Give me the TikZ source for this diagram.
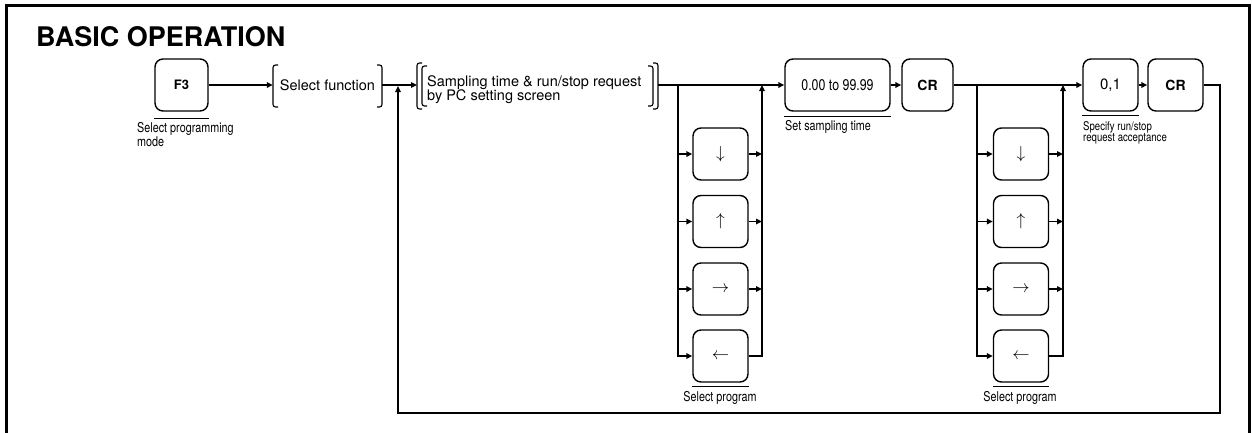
\documentclass[tikz,border=0pt]{standalone}
\usepackage{fontspec}
\setmainfont{TeX Gyre Heros}
\newfontfamily\condfont[FakeStretch=0.8]{TeX Gyre Heros}
\usetikzlibrary{arrows.meta}
\newcommand\mylab{\fontsize{14.5}{14}\selectfont}
\newcommand\mysml{\condfont\fontsize{13.5}{12}\selectfont}
\newcommand\mytny{\condfont\fontsize{12}{11}\selectfont}
\begin{document}
\begin{tikzpicture}[x=1pt,y=-1pt,
  key/.style={draw, line width=1.4pt, rounded corners=8pt, minimum width=55pt,
    minimum height=52pt, inner sep=0pt},
  conn/.style={line width=1.8pt},
  arr/.style={conn, -{Triangle[length=6pt,width=5.5pt]}},
  loopl/.style={line width=1.5pt, -{Triangle[length=6pt,width=5.5pt]}},
  brk/.style={line width=1.1pt, rounded corners=2.5pt},
  ovl/.style={line width=0.9pt},
  txt/.style={inner sep=0pt}
]
\useasboundingbox (0,0) rectangle (1252,432);
\clip (0,0) rectangle (1252,432);
% frame
\draw[line width=3pt] (6.5,445) -- (6.5,5) -- (1249.5,5) -- (1249.5,445);
% title
\node[txt, anchor=base west, font=\bfseries\fontsize{27}{27}\selectfont] (title) at (36,46) {BASIC OPERATION};

% top row
\node[key, minimum width=53pt, font=\bfseries\fontsize{13}{13}\selectfont] (f3) at (181.5,85) {F3};
\node[txt, minimum width=109pt, minimum height=42pt, font=\mylab] (selfun) at (327.5,85) {Select function};
\draw[brk] (278,65) -- (273,65) -- (273,107) -- (278,107);
\draw[brk] (377,65) -- (382,65) -- (382,107) -- (377,107);
\coordinate (sampin) at (417,85);
\coordinate (sampout) at (658,85);
\node[txt, anchor=north west, align=left, font=\mylab] (samp) at (427,75)
  {Sampling time \& run/stop request\\by PC setting screen};
\draw[brk] (422,63) -- (417,63) -- (417,109) -- (422,109);
\draw[brk] (427,66) -- (422,66) -- (422,106) -- (427,106);
\draw[brk] (648,66) -- (653,66) -- (653,106) -- (648,106);
\draw[brk] (653,63) -- (658,63) -- (658,109) -- (653,109);

\node[key, minimum width=105pt, font=\condfont\fontsize{15.5}{15}\selectfont] (t1) at (837.5,85) {0.00 to 99.99};
\node[key, minimum width=51pt, font=\bfseries\fontsize{14}{14}\selectfont] (cr1) at (927.5,85) {CR};
\node[key, font=\fontsize{15}{15}\selectfont] (o1) at (1110.5,85) {0,1};
\node[key, font=\bfseries\fontsize{14}{14}\selectfont] (cr2) at (1175.5,85) {CR};

% labels under top row
\draw[ovl] ([yshift=-7pt]f3.south west) -- ([yshift=-7pt]f3.south east);
\node[txt, anchor=north west, align=left, font=\mysml] (l1) at (137,122) {Select programming\\mode};
\draw[ovl] ([yshift=-5pt]t1.south west) -- ([yshift=-5pt]t1.south east);
\node[txt, anchor=north west, font=\mysml] (l2) at (785,120) {Set sampling time};
\draw[ovl] ([yshift=-4pt]o1.south west) -- ([yshift=-4pt]o1.south east);
\node[txt, anchor=north west, align=left, font=\mytny] (l3) at (1083,121) {Specify run/stop\\request acceptance};

% main connectors
\draw[arr] (f3.east) -- (selfun.west);
\draw[arr] (selfun.east) -- (sampin);
\draw[arr] (sampout) -- (t1.west);
\draw[arr] (t1.east) -- (cr1.west);
\draw[arr] (cr1.east) -- (o1.west);
\draw[arr] (o1.east) -- (cr2.west);

% group 1
\coordinate (ja) at (678,85);
\coordinate (ra) at (762,85);
\node[key, font=\fontsize{17}{17}\selectfont] (ka1) at (720.5,154) {$\downarrow$};
\node[key, font=\fontsize{17}{17}\selectfont] (ka2) at (720.5,221.5) {$\uparrow$};
\node[key, font=\fontsize{17}{17}\selectfont] (ka3) at (720.5,289) {$\rightarrow$};
\node[key, font=\fontsize{17}{17}\selectfont] (ka4) at (720.5,356) {$\leftarrow$};
\draw[arr] (ja) |- (ka4.west);
\draw[arr] (ka1 -| ja) -- (ka1.west);
\draw[arr] (ka2 -| ja) -- (ka2.west);
\draw[arr] (ka3 -| ja) -- (ka3.west);
\draw[arr] (ka1.east) -- (ka1 -| ra);
\draw[arr] (ka2.east) -- (ka2 -| ra);
\draw[arr] (ka3.east) -- (ka3 -| ra);
\draw[arr] (ka4.east) -| (ra);
\draw[ovl] ([yshift=-4pt]ka4.south west) -- ([yshift=-4pt]ka4.south east);
\node[txt, anchor=north, font=\mysml] (la) at (720,391) {Select program};

% group 2
\coordinate (jb) at (977,85);
\coordinate (rb) at (1063,85);
\node[key, font=\fontsize{17}{17}\selectfont] (kb1) at (1021,154) {$\downarrow$};
\node[key, font=\fontsize{17}{17}\selectfont] (kb2) at (1021,221.5) {$\uparrow$};
\node[key, font=\fontsize{17}{17}\selectfont] (kb3) at (1021,289) {$\rightarrow$};
\node[key, font=\fontsize{17}{17}\selectfont] (kb4) at (1021,356) {$\leftarrow$};
\draw[arr] (jb) |- (kb4.west);
\draw[arr] (kb1 -| jb) -- (kb1.west);
\draw[arr] (kb2 -| jb) -- (kb2.west);
\draw[arr] (kb3 -| jb) -- (kb3.west);
\draw[arr] (kb1.east) -- (kb1 -| rb);
\draw[arr] (kb2.east) -- (kb2 -| rb);
\draw[arr] (kb3.east) -- (kb3 -| rb);
\draw[arr] (kb4.east) -| (rb);
\draw[ovl] ([yshift=-4pt]kb4.south west) -- ([yshift=-4pt]kb4.south east);
\node[txt, anchor=north, font=\mysml] (lb) at (1020,391) {Select program};

% loop back
\coordinate (lpr) at (1220,85);
\coordinate (lpl) at (398,413);
\coordinate (lpend) at (398,86);
\draw[loopl] (cr2.east) -- (lpr) |- (lpl) -- (lpend);
\end{tikzpicture}
\end{document}
